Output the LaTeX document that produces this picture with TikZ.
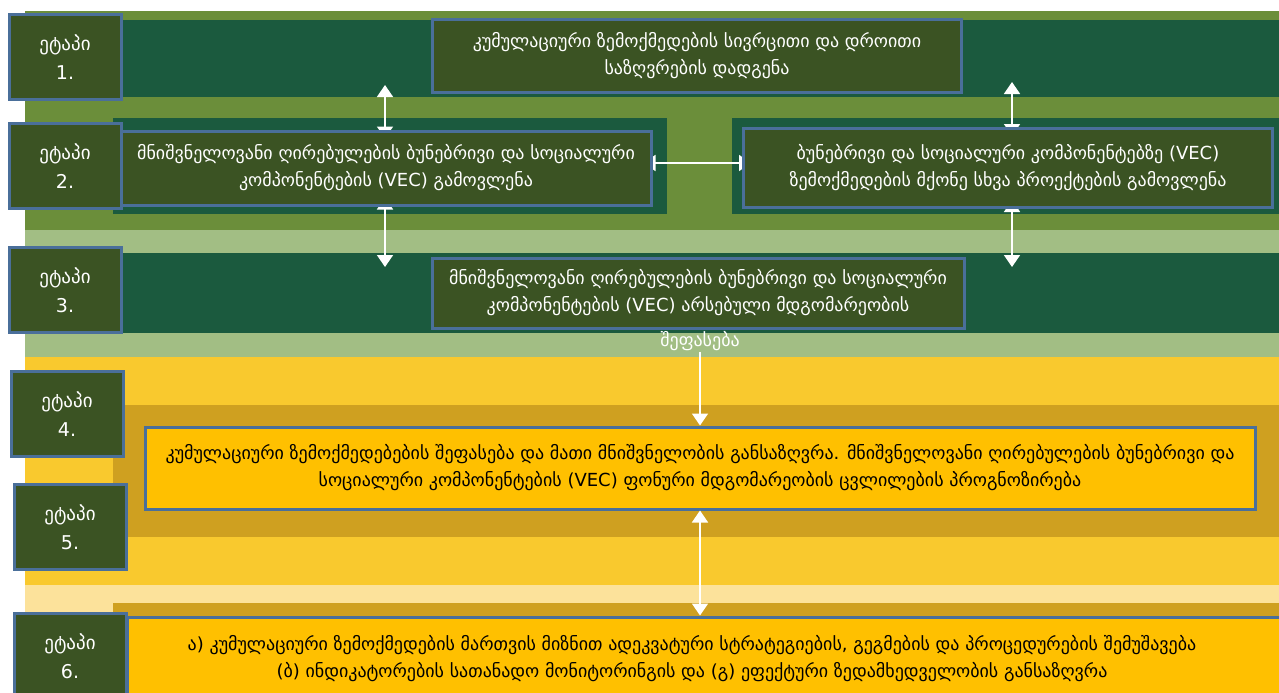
\documentclass[tikz,border=0pt]{standalone}
\usepackage{fontspec}
\setmainfont{DejaVu Sans}
\usepackage{tikz}
\usetikzlibrary{arrows.meta, positioning, backgrounds}
\definecolor{bandolive}{HTML}{6B8E3A}
\definecolor{banddark}{HTML}{1B5A3E}
\definecolor{bandlight}{HTML}{A2BE84}
\definecolor{bandyellow}{HTML}{F9C92E}
\definecolor{bandgold}{HTML}{CFA020}
\definecolor{bandpale}{HTML}{FCE29B}
\definecolor{boxolive}{HTML}{3B5323}
\definecolor{boxyellow}{HTML}{FFC000}
\definecolor{edgeblue}{HTML}{4A6F9A}

\begin{document}
\begin{tikzpicture}[x=1pt, y=-1pt,
    stagebox/.style={draw=edgeblue, line width=3pt, fill=boxolive, text=white,
      minimum width=112pt, minimum height=85pt, inner sep=0pt, align=center,
      font=\fontsize{19}{29}\selectfont},
    greenbox/.style={draw=edgeblue, line width=3pt, fill=boxolive, text=white,
      inner sep=0pt, align=center, font=\fontsize{18}{27}\selectfont},
    yellowbox/.style={draw=edgeblue, line width=3pt, fill=boxyellow, text=black,
      inner sep=0pt, align=center, font=\fontsize{18}{27}\selectfont},
    twoway/.style={white, line width=1.6pt,
      {Triangle[width=16pt,length=12pt]}-{Triangle[width=16pt,length=12pt]}},
    oneway/.style={white, line width=1.6pt, -{Triangle[width=16pt,length=12pt]}}]
    \useasboundingbox (0,0) rectangle (1279,693);
    \clip (0,0) rectangle (1279,693);
    \begin{pgfonlayer}{background}
      \fill[white] (0,0) rectangle (1279,693);
      \fill[bandolive] (25,11) rectangle (1279,230);
      \fill[banddark] (25,20) rectangle (1279,97);
      \fill[banddark] (113,118) rectangle (667,214);
      \fill[banddark] (732,118) rectangle (1279,214);
      \fill[bandlight] (25,230) rectangle (1279,357);
      \fill[banddark] (25,253) rectangle (1279,333);
      \fill[bandyellow] (25,357) rectangle (1279,585);
      \fill[bandgold] (113,405) rectangle (1279,537);
      \fill[bandpale] (25,585) rectangle (1279,693);
      \fill[bandgold] (113,603) rectangle (1279,693);
    \end{pgfonlayer}
    % stages
    \node[stagebox] (s1) at (65,57) {ეტაპი\\1.};
    \node[stagebox] (s2) at (65,166) {ეტაპი\\2.};
    \node[stagebox] (s3) at (65,290) {ეტაპი\\3.};
    \node[stagebox] (s4) at (67,414) {ეტაპი\\4.};
    \node[stagebox] (s5) at (70,527) {ეტაპი\\5.};
    \node[stagebox] (s6) at (70,656) {ეტაპი\\6.};
    % tasks
    \node[greenbox, minimum width=529pt, minimum height=72pt] (bounds) at (697,56)
      {კუმულაციური ზემოქმედების სივრცითი და დროითი\\საზღვრების დადგენა};
    \node[greenbox, minimum width=530pt, minimum height=74pt] (vec) at (386,168)
      {მნიშვნელოვანი ღირებულების ბუნებრივი და სოციალური\\კომპონენტების  (VEC) გამოვლენა};
    \node[greenbox, minimum width=529pt, minimum height=79pt] (others) at (1008,168)
      {ბუნებრივი და სოციალური კომპონენტებზე (VEC)\\ზემოქმედების მქონე სხვა პროექტების გამოვლენა};
    \node[greenbox, minimum width=532pt, minimum height=70pt] (state) at (698,293)
      {მნიშვნელოვანი ღირებულების ბუნებრივი და სოციალური\\კომპონენტების (VEC)  არსებული მდგომარეობის};
    \node[text=white, font=\fontsize{18}{27}\selectfont, inner sep=1pt] (stateend) at (700,341) {შეფასება};
    \node[yellowbox, minimum width=1110pt, minimum height=82pt] (impact) at (700,468)
      {კუმულაციური ზემოქმედებების შეფასება და მათი მნიშვნელობის განსაზღვრა. მნიშვნელოვანი ღირებულების ბუნებრივი და\\სოციალური კომპონენტების (VEC) ფონური მდგომარეობის ცვლილების პროგნოზირება};
    \node[yellowbox, minimum width=1170pt, minimum height=90pt] (plan) at (712,662) {};
    \node[font=\fontsize{18}{27}\selectfont, align=center, inner sep=0pt] (plantext) at (692,659)
      {ა) კუმულაციური ზემოქმედების მართვის მიზნით ადეკვატური სტრატეგიების, გეგმების და პროცედურების შემუშავება\\(ბ) ინდიკატორების სათანადო მონიტორინგის და (გ) ეფექტური ზედამხედველობის განსაზღვრა};
    % arrows
    \coordinate (upL) at (385,85);
    \coordinate (upR) at (1012,82);
    \coordinate (downL) at (385,267);
    \coordinate (downR) at (1012,267);
    \begin{pgfonlayer}{background}
      \draw[twoway] (upL) -- ([yshift=-9pt]vec.north -| upL);
      \draw[twoway] (upR) -- ([yshift=-9pt]others.north -| upR);
      \draw[twoway] ([yshift=9pt]vec.south -| downL) -- (downL);
      \draw[twoway] ([yshift=9pt]others.south -| downR) -- (downR);
      \draw[twoway] ([xshift=-9pt, yshift=5pt]vec.east) -- ([xshift=9pt, yshift=5pt]others.west);
    \end{pgfonlayer}
    \draw[oneway] (stateend) -- (impact.north -| stateend);
    \draw[twoway] (impact.south -| stateend) -- (plan.north -| stateend);
  \end{tikzpicture}
\end{document}
